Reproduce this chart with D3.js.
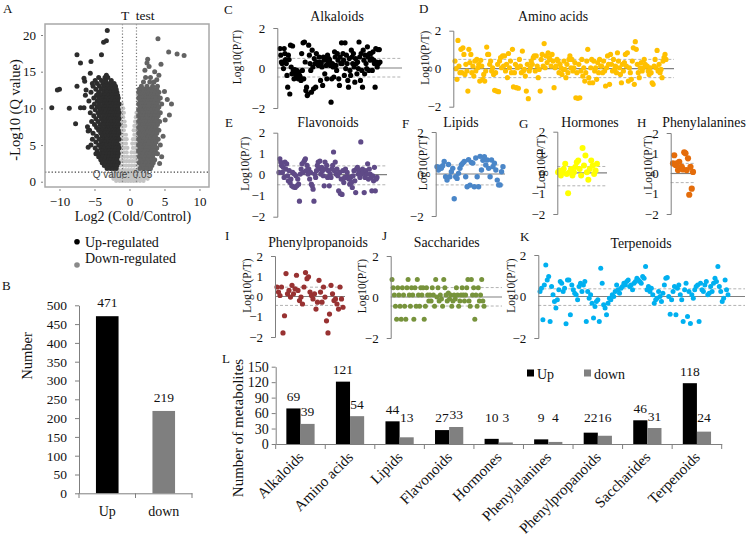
<!DOCTYPE html>
<html><head><meta charset="utf-8">
<script src="https://cdn.jsdelivr.net/npm/d3@7"></script>
<style>
body{margin:0;background:#fff}
svg text{font-family:"Liberation Serif","Times New Roman",serif;fill:#111}
</style></head><body>
<svg id="fig" width="749" height="536"></svg>
<script>
// ================= DATA =================
// Panel A – volcano plot. Rows: [Q (-log10), log2FC values...]
const upRegulatedRows = [
 [14.2,-4.4,-3.5,-3.1],[13.8,-4.9,-4.0,-3.4,-2.6],[13.4,-4.6,-3.8,-3.2,-2.8,-2.2],
 [13.0,-5.2,-4.3,-3.6,-3.0,-2.5,-2.0],[12.6,-4.8,-4.0,-3.4,-2.9,-2.3,-1.9],
 [12.2,-5.5,-4.4,-3.7,-3.2,-2.7,-2.2,-1.8],[11.8,-4.7,-4.1,-3.5,-3.0,-2.5,-2.0,-1.7],
 [11.4,-5.1,-4.4,-3.8,-3.3,-2.8,-2.4,-1.9,-1.6],[11.0,-5.8,-4.6,-4.0,-3.5,-3.0,-2.6,-2.1,-1.7],
 [10.6,-5.0,-4.3,-3.7,-3.2,-2.8,-2.3,-1.9,-1.5],[10.2,-5.4,-4.6,-4.0,-3.5,-3.0,-2.6,-2.1,-1.7],
 [9.8,-4.9,-4.2,-3.7,-3.3,-2.8,-2.4,-2.0,-1.6],[9.4,-5.6,-4.5,-3.9,-3.5,-3.0,-2.6,-2.2,-1.8,-1.5],
 [9.0,-5.1,-4.3,-3.7,-3.2,-2.8,-2.4,-2.0,-1.6],[8.6,-4.8,-4.0,-3.5,-3.0,-2.6,-2.2,-1.8,-1.5],
 [8.2,-5.4,-4.5,-3.8,-3.3,-2.9,-2.5,-2.1,-1.7],[7.8,-5.0,-4.2,-3.6,-3.1,-2.7,-2.3,-1.9,-1.5],
 [7.4,-4.7,-4.0,-3.4,-3.0,-2.5,-2.1,-1.7],[7.0,-5.7,-4.4,-3.8,-3.3,-2.8,-2.4,-2.0,-1.6],
 [6.6,-5.2,-4.1,-3.5,-3.1,-2.6,-2.2,-1.8,-1.5],[6.2,-4.7,-3.9,-3.4,-2.9,-2.5,-2.1,-1.7],
 [5.8,-5.3,-4.3,-3.7,-3.2,-2.7,-2.3,-1.9,-1.5],[5.4,-4.8,-4.0,-3.5,-3.0,-2.6,-2.2,-1.8],
 [5.0,-5.5,-4.4,-3.8,-3.3,-2.8,-2.4,-2.0,-1.6],[4.6,-4.9,-4.1,-3.6,-3.1,-2.7,-2.3,-1.9,-1.5],
 [4.2,-4.6,-3.9,-3.4,-2.9,-2.5,-2.1,-1.7],[3.8,-4.8,-4.2,-3.7,-3.2,-2.8,-2.4,-2.0,-1.6],
 [3.4,-4.4,-3.8,-3.3,-2.9,-2.5,-2.1,-1.7],[3.0,-4.1,-3.5,-3.0,-2.6,-2.2,-1.8],
 [2.6,-3.9,-3.3,-2.8,-2.4,-2.0,-1.6],[2.2,-3.6,-3.0,-2.5,-2.1,-1.8],[1.8,-3.2,-2.7,-2.3,-1.9]
];
const upRegulatedOutliers = [[-3.17,20.6],[-3.3,19.2],[-3.7,19.0],[-4.0,17.3],[-7.5,17.3],[-7.0,16.2],[-5.5,16.4],
 [-5.6,14.8],[-6.5,14.1],[-6.4,13.7],[-10.0,12.6],[-10.3,12.5],[-11.1,10.1],[-8.6,10.0],[-7.0,10.1],[-6.5,10.1],
 [-7.7,7.9],[-7.5,13.0],[-6.2,12.5],[-6.3,11.8],[-5.3,13.4],[-5.9,4.7],[-6.0,7.5],[-5.9,6.9],[-3.3,14.5]];
const downRegulatedRows = [
 [14.2,2.3,3.0],[13.6,2.0,2.9,3.5],[13.0,1.7,2.5,3.3,4.0],
 [12.6,1.4,1.8,2.1,2.4,2.7,3.0,3.4,3.9],[12.2,1.3,1.7,2.0,2.3,2.6,2.9,3.2,3.6,4.2],
 [11.8,1.5,1.9,2.2,2.5,2.8,3.1,3.5,4.0],[11.4,1.3,1.7,2.0,2.4,2.7,3.0,3.3,3.8,4.4],
 [11.0,1.5,1.9,2.2,2.6,2.9,3.2,3.6,4.1],[10.6,1.3,1.7,2.0,2.4,2.8,3.1,3.5,3.9,4.6],
 [10.2,1.5,1.9,2.2,2.6,3.0,3.3,3.7,4.2],[9.8,1.3,1.7,2.1,2.4,2.8,3.2,3.6,4.0],
 [9.4,1.5,1.9,2.3,2.6,3.0,3.4,3.8,4.4],[9.0,1.3,1.7,2.1,2.5,2.9,3.2,3.6,4.1],
 [8.6,1.5,1.9,2.3,2.7,3.1,3.5,3.9],[8.2,1.3,1.7,2.1,2.5,2.9,3.3,3.7,4.3],
 [7.8,1.5,1.9,2.3,2.7,3.1,3.5,4.0],[7.4,1.3,1.7,2.1,2.5,2.9,3.3,3.8],
 [7.0,1.5,1.9,2.3,2.7,3.1,3.6,4.2],[6.6,1.3,1.7,2.1,2.5,2.9,3.4,3.9],
 [6.2,1.5,1.9,2.3,2.7,3.2,3.7],[5.8,1.3,1.7,2.1,2.6,3.0,3.5,4.1],[5.4,1.5,1.9,2.4,2.8,3.3,3.8],
 [5.0,1.3,1.7,2.2,2.6,3.1,3.6,4.4],[4.6,1.5,2.0,2.4,2.9,3.4,3.9],[4.2,1.3,1.8,2.2,2.7,3.2,3.7],
 [3.8,1.5,2.0,2.5,3.0,3.5,4.0],[3.4,1.4,1.8,2.3,2.8,3.3],[3.0,1.6,2.1,2.6,3.1,3.6],
 [2.6,1.4,1.9,2.4,2.9,3.4],[2.2,1.7,2.2,2.7,3.2],[1.8,1.5,2.0,2.5,3.0]
];
const downRegulatedOutliers = [[4.07,19.5],[5.6,17.7],[6.8,17.4],[7.8,17.2],[2.6,16.7],[2.5,16.2],[2.8,15.7],[4.5,16.0],
 [3.6,15.0],[2.2,15.2],[4.2,14.5],[3.9,13.9],[5.4,11.2],[6.0,10.6],[5.7,9.1],[5.1,8.4],[4.8,6.2],[4.6,3.4],[4.3,2.5],[5.0,12.3]];
const notSignificantRows = [
 [10.6,-1.1],[10.0,-1.2,-0.9],[9.4,-1.1,-0.8,1.0],[8.8,-1.2,-0.9,0.9,1.1],[8.2,-1.1,-0.7,0.8,1.1],
 [7.6,-1.2,-0.9,-0.6,0.7,1.0],[7.0,-1.1,-0.8,0.6,0.9,1.2],[6.4,-1.2,-0.9,-0.5,0.7,1.0],
 [5.8,-1.1,-0.7,-0.4,0.5,0.8,1.1],[5.2,-1.2,-0.9,-0.5,0.4,0.8,1.1],[4.6,-1.1,-0.7,-0.3,0.5,0.9,1.2],
 [4.0,-1.2,-0.8,-0.4,0.3,0.7,1.0],[3.4,-1.1,-0.7,-0.3,0.2,0.6,0.9,1.2],[2.8,-1.2,-0.8,-0.4,0.0,0.4,0.8,1.1],
 [2.2,-1.3,-0.9,-0.5,-0.1,0.3,0.7,1.1,1.4],[1.6,-1.5,-1.0,-0.6,-0.2,0.2,0.6,1.0,1.4],
 [1.2,-2.4,-1.9,-1.4,-0.9,-0.4,0.0,0.4,0.9,1.3,1.8,2.3],[0.8,-2.6,-2.1,-1.6,-1.2,-0.7,-0.3,0.1,0.5,1.0,1.4,1.9,2.4,2.8],
 [0.4,-2.3,-1.8,-1.4,-0.9,-0.5,-0.1,0.3,0.7,1.2,1.6,2.1,2.6],[0.1,-1.9,-1.4,-1.0,-0.6,-0.2,0.2,0.6,1.0,1.5,2.0]
];
const volcanoXTicks = [-10,-5,0,5,10];
const volcanoYTicks = [0,5,10,15,20];
const foldThreshold = [-1, 1];
const qThreshold = 1.3;

// Panel B
const totalCategories = ["Up","down"];
const totalCounts = [471, 219];
const totalTicks = [0,50,100,150,200,250,300,350,400,450,500];

// Panels C–K : Log10(P/T) per metabolite (in order)
const alkaloidsValues = [0.97,0.64,0.3,0.22,0.3,-0.03,0.97,0.72,0.42,0.22,-0.37,-0.96,0.64,0.42,-1.3,1.14,0.05,-0.29,1.1,-0.12,-0.54,-0.08,-0.29,-0.45,-0.12,-0.29,-0.54,-0.2,-0.37,-0.45,-0.62,0.72,-0.12,1.26,-0.54,1.3,0.3,-1.13,-0.96,-1.38,-1.3,1.14,0.64,0.22,-0.12,-1.21,0.89,0.05,-1.04,0.47,0.22,-0.96,0.72,0.3,0.22,0.13,0.55,0.3,-0.62,0.22,0.05,-0.87,0.55,0.39,-0.29,0.47,0.13,-0.54,0.64,0.3,0.47,0.39,0.13,-1.71,-0.54,0.22,0.05,-0.45,0.81,0.55,0.13,-0.12,0.72,0.39,-0.54,-0.87,0.55,0.22,1.26,0.22,0.72,0.39,-0.37,1.26,-0.03,0.64,0.22,-0.62,-0.96,0.47,-0.12,-0.37,0.89,0.55,0.22,0.72,0.05,-0.71,0.47,0.22,-0.29,0.3,-0.03,1.3,0.55,-0.62,0.72,-0.12,-0.96,0.89,0.39,-0.29,0.64,0.22,-0.03,1.06,0.55,-0.12,0.72,0.39,0.72,0.47,-0.12,0.81,0.39,0.22,-0.96,0.97,0.3,0.05,0.92,0.22,0.92,0.3];
const aminoAcidsValues = [0.4,0.0,-0.56,1.49,0.14,-0.21,1.02,-0.21,1.1,0.75,-0.3,0.23,-0.12,-1.18,1.02,0.32,0.75,-0.21,0.14,-0.39,0.4,-0.12,0.49,0.05,0.23,-0.65,0.44,0.14,-0.56,-0.3,-0.65,-0.12,1.14,0.75,0.75,0.23,0.4,-0.12,0.05,-0.3,-1.14,-0.21,-1.18,0.23,-1.21,0.4,0.58,0.05,0.67,0.14,0.67,-0.12,0.23,-0.47,0.8,0.05,0.4,-0.21,1.02,-0.96,-0.21,0.23,-1.0,0.05,-1.03,0.49,0.14,-0.21,0.93,-0.12,-0.04,-0.39,-1.18,0.23,-1.58,-0.12,0.05,0.4,0.23,0.58,0.67,-0.12,0.67,0.14,-0.47,-0.04,-1.18,0.49,0.75,0.14,1.32,0.05,0.67,0.32,0.84,0.58,0.49,0.14,0.75,0.4,-1.0,0.05,0.14,0.49,0.4,-0.21,0.23,0.05,-0.3,-0.04,0.4,-0.04,-0.47,0.23,-0.21,0.49,0.67,0.05,0.49,-0.12,0.05,0.32,-1.53,-0.21,-1.56,0.23,-1.53,-0.12,0.49,-0.39,0.05,-0.65,-0.21,0.4,1.02,-0.47,-0.74,0.05,0.49,-0.74,0.4,-0.12,0.05,-0.56,0.32,-0.21,0.49,0.14,0.14,-0.21,0.4,-0.12,-0.91,0.05,0.67,0.23,-0.82,0.75,0.23,-0.12,0.49,-0.04,0.14,-0.21,0.84,0.4,0.05,-0.3,-0.74,0.23,-0.12,0.32,0.75,0.14,0.84,-0.65,0.05,-0.21,-0.56,0.4,1.1,-0.82,1.42,1.02,0.23,-0.21,-0.47,0.05,0.32,-0.12,0.05,0.49,0.23,0.14,0.14,-0.12,-0.3,0.05,-0.21,-0.74,-0.82,0.14,0.49,0.05,0.96,-0.12,0.23,-0.21,-0.04,-0.47,0.4,0.58,0.75,0.49];
const flavonoidsValues = [0.11,0.76,0.6,0.44,0.11,0.35,-0.13,0.6,0.27,0.52,-0.05,-0.29,0.19,-0.37,-0.21,-0.53,0.11,-0.58,0.03,-0.61,-0.05,-0.53,-0.21,-0.45,-1.26,0.03,0.27,0.52,0.11,0.6,0.68,0.76,0.19,0.44,0.03,0.27,-0.21,0.11,-0.45,-0.53,-0.69,-1.26,0.03,-0.13,0.19,0.44,0.6,0.27,0.65,0.03,0.35,0.19,-0.05,-0.53,0.6,0.27,0.44,-0.13,0.19,-0.53,0.03,-0.13,0.27,0.44,1.08,0.19,0.6,0.03,0.27,-0.05,-0.77,0.11,-0.9,-0.21,-0.94,0.19,-0.37,-0.13,0.27,-0.13,0.11,-0.13,-0.21,-0.45,-0.13,-0.37,-0.61,-0.05,0.19,-0.29,-0.85,0.27,0.35,0.03,0.19,-0.13,1.56,0.03,0.27,0.11,-0.85,-0.13,0.19,0.03,0.52,-0.21,0.27,0.03,-0.13,-0.77,-0.05,-0.29,0.35,-0.77,-0.21,-0.13];
const lipidsValues = [0.35,0.19,0.32,0.27,0.39,0.6,-0.13,-0.29,0.45,-0.13,0.11,0.27,-1.18,-0.13,-0.21,0.03,0.27,0.44,0.52,0.6,-0.13,-0.61,0.68,-0.53,0.55,0.52,-0.61,0.76,-0.13,-0.61,0.84,0.19,0.65,0.82,0.43,0.67,0.27,-0.13,0.67,0.35,0.51,0.19,-0.29,-0.52,-0.52,0.11,0.35];
const hormonesValues = [0.03,0.11,-0.13,0.03,0.19,0.44,-0.05,-0.99,0.03,0.19,-0.13,0.03,0.28,0.52,0.6,0.19,-0.13,1.21,0.36,0.84,0.03,-0.34,0.19,0.6,0.36,-0.05,0.11,0.44];
const phenylalaninesValues = [0.5,0.9,0.42,0.5,0.17,0.58,0.25,0.33,0.2,1.05,1.0,0.17,0.75,-1.05,0.33,-0.75,0.08];
const phenylpropanoidsValues = [0.47,0.22,0.05,0.47,-1.8,-0.95,1.13,0.13,0.3,-0.03,0.55,0.13,0.38,1.05,0.3,-0.2,-0.03,-0.37,0.47,1.18,0.88,0.97,0.22,0.05,-0.12,0.13,-0.62,-0.28,0.8,0.22,-0.28,0.47,-0.03,-1.2,-1.8,-0.87,0.55,0.13,-0.2,-0.12,-0.37,-0.62,0.47,-0.12,-0.53];
const saccharidesValues = [0.85,0.45,0.1,-0.45,-1.08,0.45,0.1,-0.45,-1.08,0.45,0.1,-0.45,-1.08,0.45,0.85,0.1,-0.45,0.45,0.1,-1.08,0.45,-0.45,0.85,0.1,-0.45,0.45,0.1,0.45,-1.08,-0.45,0.45,0.1,-0.2,0.1,-0.2,0.45,0.1,-0.45,0.85,0.0,0.45,-0.2,0.1,-0.1,-0.45,0.85,0.45,0.1,-0.2,0.2,-0.1,0.1,-0.45,-0.2,0.1,-0.1,0.45,0.1,-0.45,-0.2,0.1,0.45,0.1,-0.2,0.1,0.45,0.85,-0.2,-0.45,0.85,0.1,0.45,-1.08,0.1,-0.45,0.45,-0.2,0.1,0.85,-0.2,-0.45];
const terpenoidsValues = [0.24,0.4,-1.12,0.56,1.52,0.8,0.96,-1.2,0.48,0.08,-0.24,-0.56,-0.16,0.32,0.72,0.64,0.24,0.4,-1.31,0.8,0.8,-0.88,0.56,0.32,0.16,0.08,-0.16,0.48,0.64,0.24,0.56,0.72,-1.2,0.24,-0.08,0.08,-0.32,-1.04,-0.48,-0.24,-0.16,-1.2,1.36,0.64,-0.4,-0.56,-0.88,-0.32,-0.08,-0.16,0.08,0,0.24,0.56,0.32,0.16,0.4,0.48,0.64,0.56,0.72,0.8,0.48,0.56,0.32,0.64,0.72,0.88,0.8,0.72,0.64,0.96,0.88,1.44,0.32,0.48,0.24,0.4,0.08,-0.32,-0.16,-0.08,0.24,0,-0.24,0.16,0.56,0.88,0.91,0,-0.85,-0.16,0.24,0.48,-0.88,0.4,0.56,0.08,-0.16,-1.2,0.32,0.64,-0.96,0.24,-1.3,0.08,-0.08,0.32,0.48,0.56,-1.2,0.64,0.32,0.24,0.56,0.72,0.08,0.16,0.48,0.24,0.64,0.88,0.72,1.44,0.48,0.24,-0.24,-0.08,0.8,0.32,0.08];

// Panel L
const classCategories = ["Alkaloids","Amino acids","Lipids","Flavonoids","Hormones","Phenylalanines","Phenylpropanoids","Saccharides","Terpenoids"];
const upCounts   = [69,121,44,27,10,9,22,46,118];
const downCounts = [39,54,13,33,3,4,16,31,24];
const classTicks = [0,30,60,90,120,150];

// ================= DRAWING =================
const FONT = '"Liberation Serif","Times New Roman",serif';
const svg = d3.select('#fig');
const AX = '#7f7f7f';

function letter(t, x, y) {
  svg.append('text').attr('x', x).attr('y', y).attr('font-size', 13).text(t);
}
function styleAxis(g, size) {
  g.attr('font-family', FONT).attr('font-size', size);
  g.selectAll('path.domain').attr('stroke', AX);
  g.selectAll('.tick line').attr('stroke', AX);
  g.selectAll('.tick text').attr('fill', '#111');
}
const unpack = rows => rows.flatMap(([y, ...xs]) => xs.map(x => [x, y]));

// ---------- Panel A ----------
(function(){
  const vx = d3.scaleLinear().domain([-12.07, 11.36]).range([45, 209]);
  const vy = d3.scaleLinear().domain([-0.72, 21.5]).range([187, 24]);
  const g = svg.append('g');
  const ns = unpack(notSignificantRows);
  g.selectAll('.ns').data(ns).join('circle').attr('cx', d => vx(d[0])).attr('cy', d => vy(d[1])).attr('r', 2.1).attr('fill', '#c4c4c4');
  const dn = unpack(downRegulatedRows).concat(downRegulatedOutliers);
  g.selectAll('.dn').data(dn).join('circle').attr('cx', d => vx(d[0])).attr('cy', d => vy(d[1])).attr('r', 2.5).attr('fill', '#636363');
  const up = unpack(upRegulatedRows).concat(upRegulatedOutliers);
  g.selectAll('.up').data(up).join('circle').attr('cx', d => vx(d[0])).attr('cy', d => vy(d[1])).attr('r', 2.5).attr('fill', '#2d2d2d');
  foldThreshold.forEach(t => g.append('line').attr('x1', vx(t)).attr('x2', vx(t)).attr('y1', 24).attr('y2', vy(0))
    .attr('stroke', '#777').attr('stroke-width', 1.2).attr('stroke-dasharray', '1.2,2'));
  g.append('line').attr('x1', 45).attr('x2', 209).attr('y1', vy(qThreshold)).attr('y2', vy(qThreshold))
    .attr('stroke', '#444').attr('stroke-width', 1.3).attr('stroke-dasharray', '1.3,2');
  g.append('text').attr('x', vx(-1)).attr('y', vy(qThreshold) + 5.5).attr('text-anchor', 'middle')
    .attr('font-size', 10).style('font-family', '"Liberation Sans",Arial,sans-serif').style('fill', '#444').text('Q value: 0.05');
  g.append('rect').attr('x', 45).attr('y', 24).attr('width', 164).attr('height', 163).attr('fill', 'none').attr('stroke', '#a8a8a8').attr('stroke-width', 1.5);
  const ya = g.append('g').attr('transform', 'translate(43,0)').call(d3.axisLeft(vy).tickValues(volcanoYTicks).tickSize(2).tickPadding(5));
  styleAxis(ya, 13); ya.select('.domain').remove();
  const xa = g.append('g').attr('transform', 'translate(0,189)').call(d3.axisBottom(vx).tickValues(volcanoXTicks).tickSize(2).tickPadding(6));
  styleAxis(xa, 13); xa.select('.domain').remove();
  svg.append('text').attr('x', 121).attr('y', 19.5).attr('font-size', 13.5).style('white-space', 'pre').text('T  test');
  svg.append('text').attr('transform', 'translate(20,110) rotate(-90)').attr('text-anchor', 'middle').attr('font-size', 14.5).text('-Log10 (Q value)');
  svg.append('text').attr('x', 133).attr('y', 221).attr('text-anchor', 'middle').attr('font-size', 14).text('Log2 (Cold/Control)');
  svg.append('circle').attr('cx', 77).attr('cy', 241.7).attr('r', 2.8).attr('fill', '#000');
  svg.append('text').attr('x', 85).attr('y', 246.5).attr('font-size', 14).text('Up-regulated');
  svg.append('circle').attr('cx', 77).attr('cy', 265).attr('r', 2.8).attr('fill', '#8a8a8a');
  svg.append('text').attr('x', 85).attr('y', 262.5).attr('font-size', 14).text('Down-regulated');
  letter('A', 3, 13);
})();

// ---------- Panel B ----------
(function(){
  const bx = d3.scaleBand().domain(totalCategories).range([79, 192]);
  const by = d3.scaleLinear().domain([0, 500]).range([493.3, 305.3]);
  const colors = ['#000000', '#7f7f7f'];
  const bw = bx.bandwidth() * 0.4;
  svg.selectAll('.tb').data(totalCounts).join('rect')
    .attr('x', (d, i) => bx(totalCategories[i]) + bx.bandwidth() / 2 - bw / 2)
    .attr('y', d => by(d)).attr('width', bw).attr('height', d => by(0) - by(d)).attr('fill', (d, i) => colors[i]);
  svg.selectAll('.tl').data(totalCounts).join('text')
    .attr('x', (d, i) => bx(totalCategories[i]) + bx.bandwidth() / 2).attr('y', d => by(d) - 9)
    .attr('text-anchor', 'middle').attr('font-size', 13.5).text(d => d);
  const ya = svg.append('g').attr('transform', 'translate(79,0)').call(d3.axisLeft(by).tickValues(totalTicks).tickSize(4).tickPadding(8).tickSizeOuter(0));
  styleAxis(ya, 13.5);
  const xa = svg.append('g').attr('transform', 'translate(0,493.3)').call(d3.axisBottom(bx).tickSize(0).tickPadding(13));
  styleAxis(xa, 14);
  const bounds = totalCategories.map(c => bx(c)).concat([bx.range()[1]]);
  svg.selectAll('.tbt').data(bounds).join('line').attr('x1', d => d).attr('x2', d => d).attr('y1', 493.3).attr('y2', 498).attr('stroke', AX);
  svg.append('text').attr('transform', 'translate(32,356) rotate(-90)').attr('text-anchor', 'middle').attr('font-size', 14.5).text('Number');
  letter('B', 2, 290);
})();

// ---------- Panels C–K ----------
const panelSpecs = [
 {values: alkaloidsValues, title:'Alkaloids', key:'C', color:'#000000', r:2.6, ax:277.3, yTop:28, yBot:108, lineEnd:402, x0:280, x1:380, ticks:[2,0,-2], dash:[0.48,-0.45], tx:337, ty:21, lx:236.5, kx:224, ky:13.5},
 {values: aminoAcidsValues, title:'Amino acids', key:'D', color:'#ffc000', r:2.6, ax:453.3, yTop:30.7, yBot:106.7, lineEnd:674, x0:455, x1:666, ticks:[2,0,-2], dash:[0.49,-0.47], tx:553, ty:20.5, lx:425, kx:419, ky:12.5},
 {values: flavonoidsValues, title:'Flavonoids', key:'E', color:'#5f4a87', r:2.6, ax:277.3, yTop:132.7, yBot:216.7, lineEnd:387, x0:279, x1:377, ticks:[2,1,0,-1,-2], dash:[0.42,-0.48], tx:328, ty:127, lx:245, kx:225, ky:127},
 {values: lipidsValues, title:'Lipids', key:'F', color:'#4a86c8', r:2.7, ax:435.7, yTop:132, yBot:216, lineEnd:505, x0:437, x1:503, ticks:[2,0,-2], dash:[0.43,-0.52], tx:461, ty:127, lx:423.3, kx:402, ky:128},
 {values: hormonesValues, title:'Hormones', key:'G', color:'#ffff00', r:3, ax:557.3, yTop:131.7, yBot:214, lineEnd:607, x0:558, x1:597, ticks:[2,1,0,-1,-2], dash:[0.31,-0.63], tx:590, ty:127, lx:541, kx:519, ky:128},
 {values: phenylalaninesValues, title:'Phenylalanines', key:'H', color:'#e46c0a', r:3.1, ax:670.7, yTop:133, yBot:214, lineEnd:695, x0:673, x1:693, ticks:[2,1,0,-1,-2], dash:[0.5,-0.45], tx:704, ty:127, lx:648, kx:637, ky:127},
 {values: phenylpropanoidsValues, title:'Phenylpropanoids', key:'I', color:'#983232', r:2.6, ax:275, yTop:256, yBot:337, lineEnd:345, x0:277, x1:343, ticks:[2,1,0,-1,-2], dash:[0.46,-0.44], tx:318, ty:246.5, lx:246.7, kx:225, ky:240},
 {values: saccharidesValues, title:'Saccharides', key:'J', color:'#77933c', r:2.5, ax:390.7, yTop:256, yBot:338, lineEnd:502, x0:392, x1:484, ticks:[2,0,-2], dash:[0.46,-0.44], tx:446.7, ty:247, lx:361.7, kx:382, ky:240},
 {values: terpenoidsValues, title:'Terpenoids', key:'K', color:'#00b0f0', r:2.5, ax:538.3, yTop:255, yBot:338, lineEnd:745, x0:540, x1:728, ticks:[2,0,-2], dash:[0.37,-0.43], tx:641, ty:248, lx:511, kx:520, ky:241}
];
panelSpecs.forEach(s => {
  const g = svg.append('g');
  const y = d3.scaleLinear().domain([-2, 2]).range([s.yBot, s.yTop]);
  const x = d3.scaleLinear().domain([0, s.values.length - 1]).range([s.x0, s.x1]);
  s.dash.forEach(v => g.append('line').attr('x1', s.ax).attr('x2', s.lineEnd).attr('y1', y(v)).attr('y2', y(v))
    .attr('stroke', '#b3b3b3').attr('stroke-dasharray', '3,2'));
  g.append('line').attr('x1', s.ax).attr('x2', s.lineEnd).attr('y1', y(0)).attr('y2', y(0)).attr('stroke', '#808080').attr('stroke-width', 1.2);
  g.selectAll('circle').data(s.values).join('circle').attr('cx', (d, i) => x(i)).attr('cy', d => y(d)).attr('r', s.r).attr('fill', s.color);
  const a = g.append('g').attr('transform', `translate(${s.ax},0)`)
    .call(d3.axisLeft(y).tickValues(s.ticks).tickFormat(d3.format('d')).tickSizeInner(0).tickSizeOuter(4).tickPadding(12));
  styleAxis(a, 13);
  svg.append('text').attr('x', s.tx).attr('y', s.ty).attr('text-anchor', 'middle').attr('font-size', 13.8).text(s.title);
  svg.append('text').attr('transform', `translate(${s.lx + 4},${(s.yTop + s.yBot) / 2 - 11}) rotate(-90)`)
    .attr('text-anchor', 'middle').attr('font-size', 11.5).text('Log10(P/T)');
  letter(s.key, s.kx, s.ky);
});

// ---------- Panel L ----------
(function(){
  const x = d3.scaleBand().domain(classCategories).range([275.7, 721.7]);
  const y = d3.scaleLinear().domain([0, 150]).range([444, 366.7]);
  const bw = x.bandwidth() * 0.285;
  const g = svg.append('g');
  g.selectAll('.lu').data(upCounts).join('rect')
    .attr('x', (d, i) => x(classCategories[i]) + x.bandwidth() / 2 - bw).attr('y', d => y(d))
    .attr('width', bw).attr('height', d => y(0) - y(d)).attr('fill', '#000');
  g.selectAll('.ld').data(downCounts).join('rect')
    .attr('x', (d, i) => x(classCategories[i]) + x.bandwidth() / 2).attr('y', d => y(d))
    .attr('width', bw).attr('height', d => y(0) - y(d)).attr('fill', '#808080');
  g.selectAll('.lut').data(upCounts).join('text')
    .attr('x', (d, i) => x(classCategories[i]) + x.bandwidth() / 2 - bw / 2).attr('y', d => Math.min(y(d), 429) - 7.5)
    .attr('text-anchor', 'middle').attr('font-size', 13.5).text(d => d);
  g.selectAll('.ldt').data(downCounts).join('text')
    .attr('x', (d, i) => x(classCategories[i]) + x.bandwidth() / 2 + bw / 2).attr('y', d => Math.min(y(d), 429) - 7.5)
    .attr('text-anchor', 'middle').attr('font-size', 13.5).text(d => d);
  const ya = g.append('g').attr('transform', 'translate(275.7,0)').call(d3.axisLeft(y).tickValues(classTicks).tickSize(4).tickPadding(3).tickSizeOuter(0));
  styleAxis(ya, 14);
  const xa = g.append('g').attr('transform', 'translate(0,444)').call(d3.axisBottom(x).tickSize(0).tickFormat(''));
  styleAxis(xa, 14);
  const bounds = classCategories.map(c => x(c)).concat([x.range()[1]]);
  g.selectAll('.lb').data(bounds).join('line').attr('x1', d => d).attr('x2', d => d).attr('y1', 444).attr('y2', 449).attr('stroke', AX);
  g.selectAll('.lc').data(classCategories).join('text')
    .attr('x', d => x(d) + x.bandwidth() / 2 + 4).attr('y', 458)
    .attr('transform', d => `rotate(-45 ${x(d) + x.bandwidth() / 2 + 4} 458)`)
    .attr('text-anchor', 'end').attr('font-size', 15).text(d => d);
  svg.append('text').attr('transform', 'translate(243,428) rotate(-90)').attr('text-anchor', 'middle').attr('font-size', 15).text('Number of metabolites');
  svg.append('rect').attr('x', 527).attr('y', 369.5).attr('width', 7).attr('height', 7).attr('fill', '#000');
  svg.append('text').attr('x', 537).attr('y', 378.5).attr('font-size', 14).text('Up');
  svg.append('rect').attr('x', 584).attr('y', 369.5).attr('width', 7).attr('height', 7).attr('fill', '#808080');
  svg.append('text').attr('x', 594).attr('y', 378.5).attr('font-size', 14).text('down');
  letter('L', 222, 363);
})();
</script>
</body></html>
